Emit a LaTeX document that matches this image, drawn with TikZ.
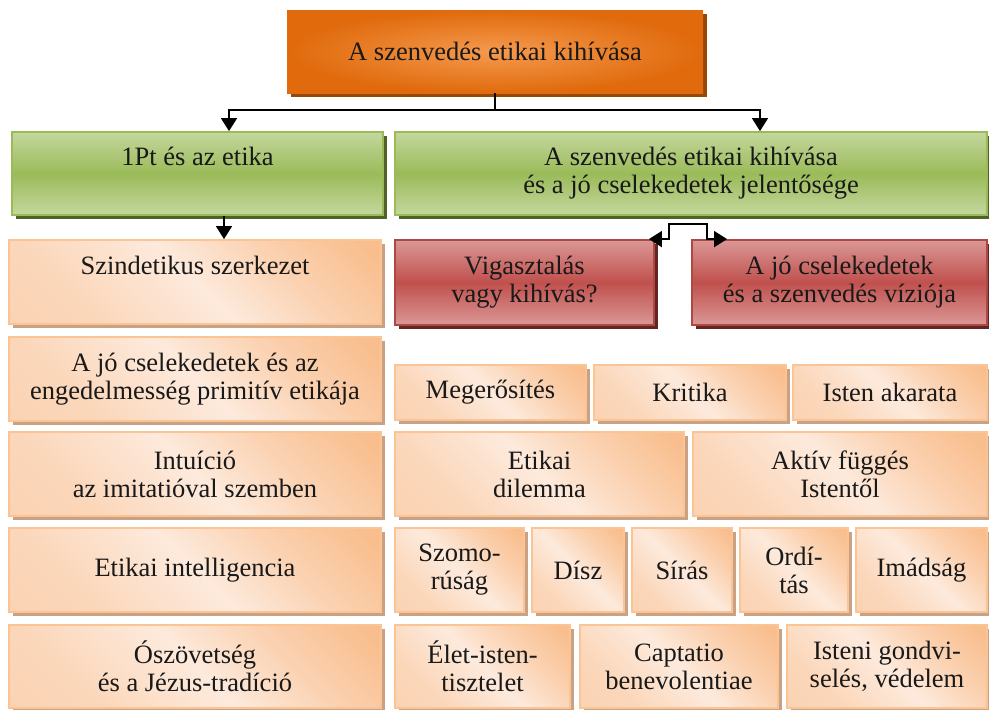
\documentclass[tikz,border=0pt]{standalone}
\usepackage{fontspec}
\setmainfont{Liberation Serif}
\usetikzlibrary{arrows.meta,shadows}

\definecolor{rootinner}{HTML}{F59A4E}
\definecolor{rootouter}{HTML}{E06A0C}
\definecolor{rootshade}{HTML}{974806}
\definecolor{greenmid}{HTML}{9BBB59}
\definecolor{greenlight}{HTML}{C4D79E}
\definecolor{greenshade}{HTML}{4F6228}
\definecolor{redmid}{HTML}{C0504D}
\definecolor{redlight}{HTML}{DA9896}
\definecolor{redshade}{HTML}{632523}
\definecolor{peachdark}{HTML}{F9BE8E}
\definecolor{peachlight}{HTML}{FDEADC}
\definecolor{peachline}{HTML}{FAC495}
\definecolor{peachshade}{HTML}{C9A285}

% fixed shadings for the bands
\pgfdeclareverticalshading{greenband}{100bp}{color(0bp)=(greenlight); color(25bp)=(greenlight); color(50bp)=(greenmid); color(75bp)=(greenlight); color(100bp)=(greenlight)}
\pgfdeclareverticalshading{redband}{100bp}{color(0bp)=(redlight); color(25bp)=(redlight); color(50bp)=(redmid); color(75bp)=(redlight); color(100bp)=(redlight)}
\pgfdeclareverticalshading{peachband}{100bp}{color(0bp)=(peachdark!60!peachlight); color(28bp)=(peachdark!45!peachlight); color(50bp)=(peachlight); color(66bp)=(peachdark!55!peachlight); color(82bp)=(peachdark); color(100bp)=(peachdark)}

\tikzset{
  every node/.style={font=\fontsize{26.5}{28}\selectfont, align=center, text=black!90},
  rootbox/.style={rectangle, inner sep=2pt, shading=radial, inner color=rootinner, outer color=rootouter,
    general shadow={fill=rootshade, shadow xshift=4pt, shadow yshift=-4pt}},
  headbox/.style={rectangle, inner sep=2pt, draw=greenmid, line width=1.8pt, shading=greenband,
    general shadow={fill=greenshade, shadow xshift=4pt, shadow yshift=-4pt}},
  redbox/.style={rectangle, inner sep=2pt, draw=redmid!90!black, line width=1.8pt, shading=redband,
    general shadow={fill=redshade, shadow xshift=4pt, shadow yshift=-4pt}},
  peach/.style={rectangle, inner sep=2pt, draw=peachline, line width=1.8pt, shading=peachband, shading angle=-45,
    general shadow={fill=peachshade, shadow xshift=4pt, shadow yshift=-4pt}},
  raised/.style={text height=17pt, text depth=33pt},
  arr/.style={-{Triangle[length=13pt,width=16pt]}, line width=1.6pt},
  darr/.style={{Triangle[length=13pt,width=16pt]}-{Triangle[length=13pt,width=16pt]}, line width=1.6pt}
}

\begin{document}
\begin{tikzpicture}[x=1pt, y=-1pt]
\useasboundingbox (0,0) rectangle (989,710);

% top
\node[rootbox, minimum width=416pt, minimum height=83pt] (root) at (495,51.5) {A szenvedés etikai kihívása};

% second level
\node[headbox, raised, minimum width=371pt, minimum height=83pt] (ethics) at (197.5,173.5) {1Pt és az etika};
\node[headbox, minimum width=592pt, minimum height=83pt] (challenge) at (691,173.5) {A szenvedés etikai kihívása\\és a jó cselekedetek jelentősége};

% left column
\node[peach, raised, minimum width=372pt, minimum height=84pt] (synd) at (195,282) {Szindetikus szerkezet};
\node[peach, minimum width=372pt, minimum height=84pt] (prim) at (195,379) {A jó cselekedetek és az\\engedelmesség primitív etikája};
\node[peach, minimum width=372pt, minimum height=84pt] (intu) at (195,474) {Intuíció\\az imitatióval szemben};
\node[peach, minimum width=372pt, minimum height=84pt] (intel) at (195,570) {Etikai intelligencia};
\node[peach, minimum width=372pt, minimum height=83pt] (oszov) at (195,666.5) {Ószövetség\\és a Jézus-tradíció};

% right column
\node[redbox, minimum width=259pt, minimum height=85pt] (cons) at (524.5,282.5) {Vigasztalás\\vagy kihívás?};
\node[redbox, minimum width=295pt, minimum height=85pt] (vis) at (839.5,282.5) {A jó cselekedetek\\és a szenvedés víziója};

\node[peach, minimum width=191pt, minimum height=55pt] (meg) at (490.5,392.5) {Megerősítés};
\node[peach, minimum width=192pt, minimum height=55pt] (krit) at (690,392.5) {Kritika};
\node[peach, minimum width=194pt, minimum height=55pt] (will) at (890,392.5) {Isten akarata};

\node[peach, minimum width=289pt, minimum height=84pt] (dil) at (539.5,474) {Etikai\\dilemma};
\node[peach, minimum width=294pt, minimum height=84pt] (dep) at (840,474) {Aktív függés\\Istentől};

\node[peach, minimum width=129pt, minimum height=84pt] (sad) at (459.5,570) {Szomo-\\rúság};
\node[peach, minimum width=92pt, minimum height=84pt] (orn) at (578,570) {Dísz};
\node[peach, minimum width=100pt, minimum height=84pt] (cry) at (682,570) {Sírás};
\node[peach, minimum width=108pt, minimum height=84pt] (shout) at (794,570) {Ordí-\\tás};
\node[peach, minimum width=131pt, minimum height=84pt] (pray) at (921.5,570) {Imádság};

\node[peach, minimum width=175pt, minimum height=83pt] (life) at (482.5,666.5) {Élet-isten-\\tisztelet};
\node[peach, minimum width=198pt, minimum height=83pt] (capt) at (679,666.5) {Captatio\\benevolentiae};
\node[peach, minimum width=200pt, minimum height=83pt] (prov) at (887,666.5) {Isteni gondvi-\\selés, védelem};

% connectors
\coordinate (hub) at ([yshift=-17pt]root.south);
\draw[line width=1.6pt] (root.south) -- (hub);
\draw[arr] (hub) -| ([xshift=31.5pt]ethics.north);
\draw[arr] (hub) -| ([xshift=69pt]challenge.north);
\draw[arr] ([xshift=26.5pt]ethics.south) -- ([xshift=26.5pt]ethics.south |- synd.north);
\draw[darr] ([xshift=-6pt]cons.north east) -- ++(20pt,0pt) |- ([xshift=16pt,yshift=15pt]vis.north west) |- ([xshift=36pt]vis.north west);
\end{tikzpicture}
\end{document}
